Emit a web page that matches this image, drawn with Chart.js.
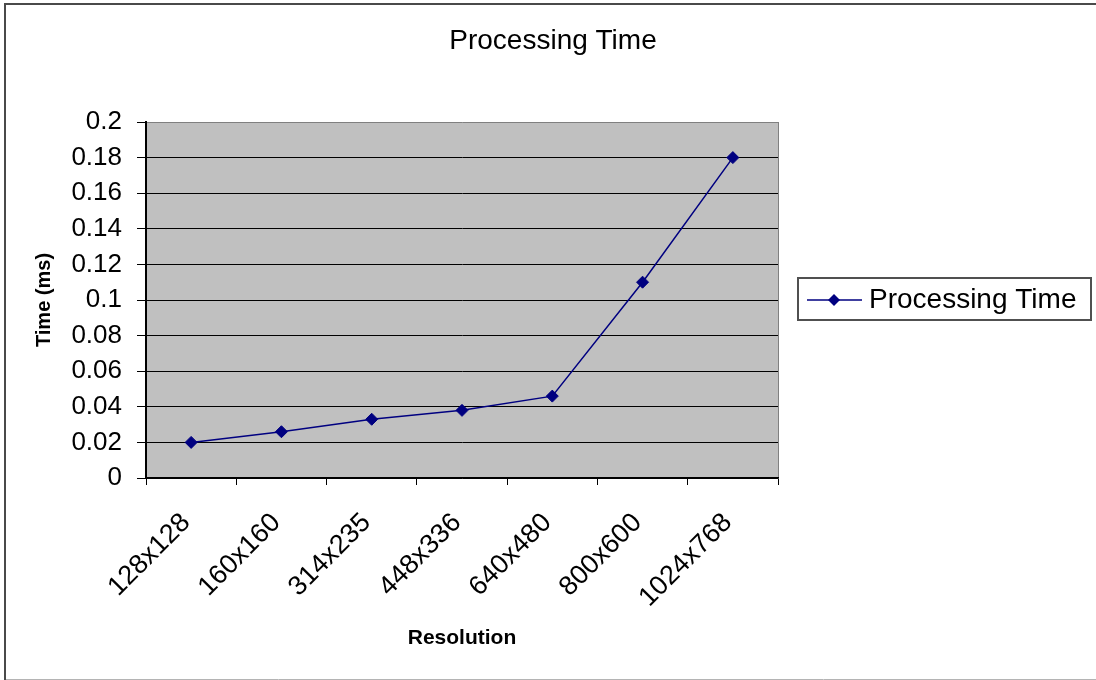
<!DOCTYPE html>
<html>
<head>
<meta charset="utf-8">
<title>Processing Time</title>
<script src="https://cdn.jsdelivr.net/npm/chart.js@4.4.1/dist/chart.umd.min.js"></script>
<style>
    body { margin: 0; background: #fff; }
    canvas { display: block; }
</style>
</head>
<body>
<canvas id="grafica" width="1096" height="680"></canvas>
<script>

// resolution of the input image and the time it took
const resoluciones = ['128x128', '160x160', '314x235', '448x336', '640x480', '800x600', '1024x768'];
const tiempos = [0.02, 0.026, 0.033, 0.038, 0.046, 0.11, 0.18];
const etiquetasY = ['0', '0.02', '0.04', '0.06', '0.08', '0.1', '0.12', '0.14', '0.16', '0.18', '0.2'];

const TITULO = 'Processing Time';
const FUENTE = '"Liberation Sans", Arial, sans-serif';
const AZUL = '#000080';

// gray plot area, frame round the whole picture, title and the boxed legend
const fondoExcel = {
    id: 'fondoExcel',
    beforeDraw(chart) {
        const { ctx, chartArea: a } = chart;
        ctx.save();
        ctx.fillStyle = '#c0c0c0';
        ctx.fillRect(a.left, a.top, a.right - a.left, a.bottom - a.top);
        ctx.strokeStyle = '#808080';
        ctx.lineWidth = 1;
        ctx.beginPath();
        ctx.moveTo(a.right + 0.5, a.top);
        ctx.lineTo(a.right + 0.5, a.bottom);
        ctx.stroke();
        ctx.restore();
    },
    afterDraw(chart) {
        const ctx = chart.ctx;
        ctx.save();

        // outer frame
        ctx.strokeStyle = '#4a4a4a';
        ctx.lineWidth = 2;
        ctx.beginPath();
        ctx.moveTo(5, 680);
        ctx.lineTo(5, 4);
        ctx.lineTo(1096, 4);
        ctx.stroke();
        ctx.strokeStyle = '#b4b4b4';
        ctx.lineWidth = 1;
        ctx.beginPath();
        ctx.moveTo(6, 679.5);
        ctx.lineTo(1096, 679.5);
        ctx.stroke();

        // title, centred on the whole picture
        ctx.fillStyle = '#000';
        ctx.font = '28px ' + FUENTE;
        ctx.textBaseline = 'middle';
        ctx.textAlign = 'center';
        ctx.fillText(TITULO, 553, 41);

        // legend
        const ds = chart.data.datasets[0];
        ctx.strokeStyle = '#505050';
        ctx.lineWidth = 2;
        ctx.strokeRect(798, 278, 293, 42);
        ctx.strokeStyle = AZUL;
        ctx.lineWidth = 1.5;
        ctx.beginPath();
        ctx.moveTo(807, 300);
        ctx.lineTo(862, 300);
        ctx.stroke();
        ctx.fillStyle = AZUL;
        ctx.beginPath();
        ctx.moveTo(834, 294);
        ctx.lineTo(840, 300);
        ctx.lineTo(834, 306);
        ctx.lineTo(828, 300);
        ctx.closePath();
        ctx.fill();
        ctx.fillStyle = '#000';
        ctx.font = '28px ' + FUENTE;
        ctx.textAlign = 'left';
        ctx.fillText(ds.label, 869, 300);

        ctx.restore();
    }
};

const renderGrafica = () => {

    const data = {
        labels: resoluciones,
        datasets: [{
            label: 'Processing Time',
            data: tiempos,
            borderColor: AZUL,
            backgroundColor: AZUL,
            borderWidth: 1.5,
            pointStyle: 'rectRot',
            pointRadius: 6,
            pointBorderWidth: 1,
            tension: 0
        }]
    };

    new Chart('grafica', {
        type: 'line',
        data: data,
        plugins: [fondoExcel],
        options: {
            responsive: false,
            animation: false,
            layout: {
                padding: { left: 0, top: 122, right: 318, bottom: 0 }
            },
            plugins: {
                legend: { display: false },
                tooltip: { enabled: false },
                title: { display: false }
            },
            scales: {
                x: {
                    offset: true,
                    afterFit: (s) => { s.height = 202; },
                    grid: {
                        offset: true,
                        drawOnChartArea: false,
                        drawTicks: true,
                        tickLength: 7,
                        color: '#000'
                    },
                    border: { color: '#000', width: 1.5 },
                    ticks: {
                        color: '#000',
                        font: { family: FUENTE, size: 27 },
                        minRotation: 45,
                        maxRotation: 45,
                        autoSkip: false,
                        padding: 22,
                        labelOffset: -5
                    },
                    title: {
                        display: true,
                        text: 'Resolution',
                        color: '#000',
                        font: { family: FUENTE, size: 21, weight: 'bold', lineHeight: 1.2 },
                        padding: { top: 0, bottom: 29 }
                    }
                },
                y: {
                    min: 0,
                    max: 0.2,
                    afterFit: (s) => { s.width = 146; },
                    grid: {
                        color: (c) => c.index === etiquetasY.length - 1 ? '#808080' : '#000',
                        lineWidth: 1,
                        drawTicks: true,
                        tickLength: 9,
                        tickColor: '#000'
                    },
                    border: { color: '#000', width: 2 },
                    ticks: {
                        stepSize: 0.02,
                        color: '#000',
                        padding: 15,
                        font: { family: FUENTE, size: 26 },
                        callback: (v, i) => etiquetasY[i]
                    },
                    title: {
                        display: true,
                        text: 'Time (ms)',
                        color: '#000',
                        font: { family: FUENTE, size: 20, weight: 'bold', lineHeight: 1.2 },
                        padding: { top: 32, bottom: 0 }
                    }
                }
            }
        }
    });
}

renderGrafica();

</script>
</body>
</html>
